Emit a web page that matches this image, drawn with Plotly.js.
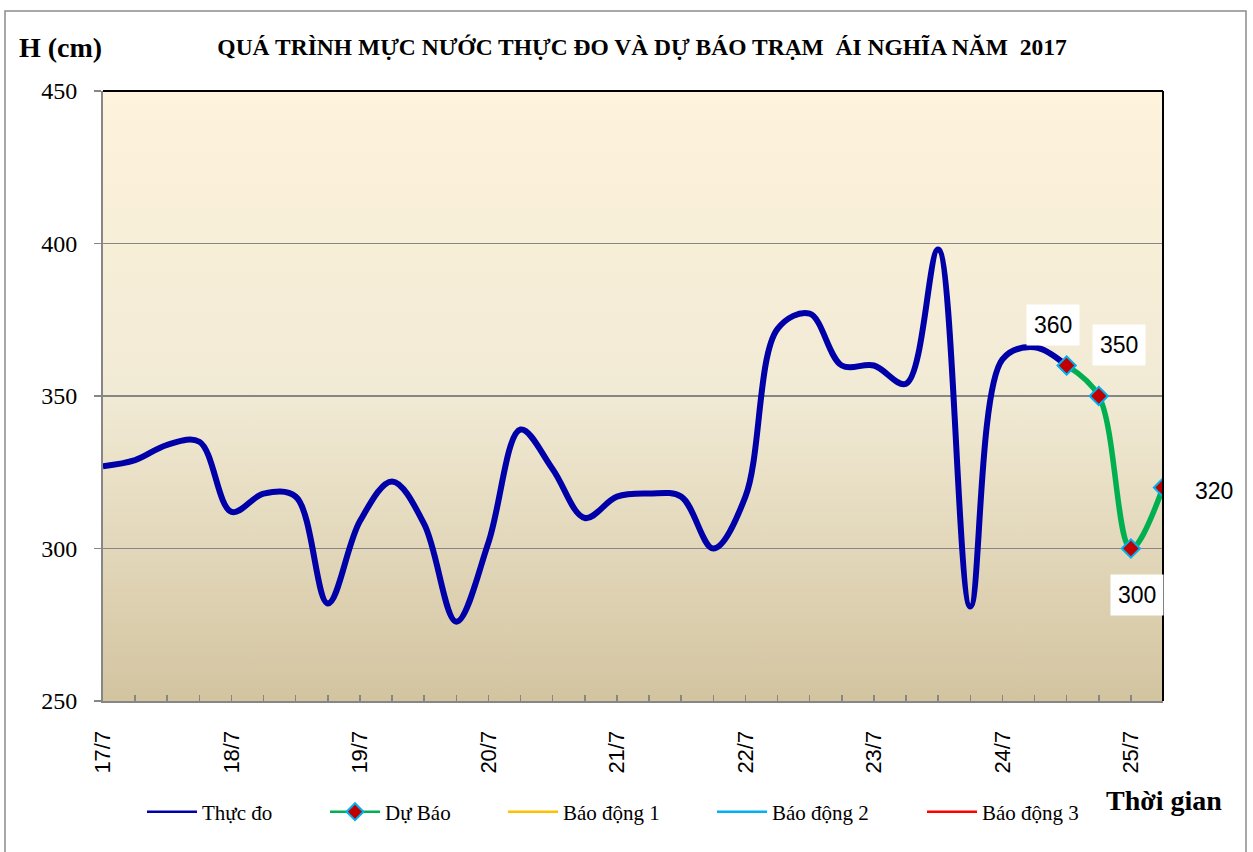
<!DOCTYPE html>
<html>
<head>
<meta charset="utf-8">
<script src="https://cdn.plot.ly/plotly-3.0.1.min.js"></script>
<style>
  html, body { margin: 0; padding: 0; background: #ffffff; }
  #chart { width: 1253px; height: 852px; }
</style>
</head>
<body>
<div id="chart"></div>
<script>
// ---- data ----
const measuredTimes = [
  '2017-07-17 00:00','2017-07-17 06:00','2017-07-17 12:00','2017-07-17 18:00',
  '2017-07-18 00:00','2017-07-18 06:00','2017-07-18 12:00','2017-07-18 18:00',
  '2017-07-19 00:00','2017-07-19 06:00','2017-07-19 12:00','2017-07-19 18:00',
  '2017-07-20 00:00','2017-07-20 06:00','2017-07-20 12:00','2017-07-20 18:00',
  '2017-07-21 00:00','2017-07-21 06:00','2017-07-21 12:00','2017-07-21 18:00',
  '2017-07-22 00:00','2017-07-22 06:00','2017-07-22 12:00','2017-07-22 18:00',
  '2017-07-23 00:00','2017-07-23 06:00','2017-07-23 12:00','2017-07-23 18:00',
  '2017-07-24 00:00','2017-07-24 06:00','2017-07-24 12:00'
];
const measuredValues = [
  327, 329, 334, 335,
  312, 318, 317, 282,
  309, 322, 308, 276,
  302, 339, 326, 310,
  317, 318, 317, 300,
  317, 372, 377, 360,
  360, 354, 398, 281,
  362, 366, 360
];
const forecastTimes = ['2017-07-24 12:00','2017-07-24 18:00','2017-07-25 00:00','2017-07-25 06:00'];
const forecastValues = [360, 350, 300, 320];
// alert levels lie outside the visible range (no visible values); only legend entries show
const alertTimes = ['2017-07-17 00:00', '2017-07-25 06:00'];
const alert1Values = [null, null];
const alert2Values = [null, null];
const alert3Values = [null, null];
const dayTicks = ['2017-07-17','2017-07-18','2017-07-19','2017-07-20','2017-07-21',
                  '2017-07-22','2017-07-23','2017-07-24','2017-07-25'];
const xRange = ['2017-07-17 00:00', '2017-07-25 06:00'];
const yRange = [250, 450];

// label offsets for forecast values (pixels)
const labelShift = [[-14, 41], [20, 51], [6, -46], [51, -3]];

const serif = 'Liberation Serif';
const sans = 'Liberation Sans';

const traces = [
  // thin copies carry the legend entries (legend keys are thin in the reference)
  { x: measuredTimes, y: measuredValues, name: 'Thực đo', type: 'scatter', mode: 'lines',
    line: { color: '#0000A8', width: 2.5, shape: 'spline', smoothing: 1 }, legend: 'legend' },
  { x: forecastTimes, y: forecastValues, name: 'Dự Báo', type: 'scatter', mode: 'lines+markers',
    line: { color: '#00B050', width: 2.5, shape: 'spline', smoothing: 1 },
    marker: { symbol: 'diamond', size: 13, color: '#C00000', line: { color: '#00B0F0', width: 2 } },
    legend: 'legend2' },
  { x: alertTimes, y: alert1Values, name: 'Báo động 1', type: 'scatter', mode: 'lines',
    line: { color: '#FFC000', width: 2.5 }, legend: 'legend3' },
  { x: alertTimes, y: alert2Values, name: 'Báo động 2', type: 'scatter', mode: 'lines',
    line: { color: '#00B0F0', width: 2.5 }, legend: 'legend4' },
  { x: alertTimes, y: alert3Values, name: 'Báo động 3', type: 'scatter', mode: 'lines',
    line: { color: '#FF0000', width: 2.5 }, legend: 'legend5' },
  // thick visible series
  { x: measuredTimes, y: measuredValues, name: 'Thực đo', type: 'scatter', mode: 'lines', showlegend: false,
    line: { color: '#0000A8', width: 6, shape: 'spline', smoothing: 1 } },
  { x: forecastTimes, y: forecastValues, name: 'Dự Báo', type: 'scatter', mode: 'lines+markers', showlegend: false,
    line: { color: '#00B050', width: 5.5, shape: 'spline', smoothing: 1 },
    marker: { symbol: 'diamond', size: 14, color: '#C00000', line: { color: '#00B0F0', width: 2 } } }
];

const gradSvg = "<svg xmlns='http://www.w3.org/2000/svg' width='10' height='100' preserveAspectRatio='none'>" +
  "<defs><linearGradient id='g' x1='0' y1='0' x2='0' y2='1'>" +
  "<stop offset='0' stop-color='#FEF3DC'/><stop offset='0.5' stop-color='#F1EAD4'/>" +
  "<stop offset='1' stop-color='#D3C4A0'/></linearGradient></defs>" +
  "<rect x='0' y='0' width='10' height='100' fill='url(#g)'/></svg>";

const legendFont = { family: serif, size: 21, color: '#000' };
function legendAt(xp) {
  return { x: xp, y: -0.182, xanchor: 'left', yanchor: 'middle', orientation: 'h',
           bgcolor: 'rgba(0,0,0,0)', font: legendFont, itemwidth: 50 };
}
const L = 103, R = 1163, T = 91, B = 701, W = R - L, H = B - T;
const px = v => (v - L) / W;
const py = v => (B - v) / H;

const annotations = [
  { text: 'H (cm)', xref: 'paper', yref: 'paper', x: px(17), y: py(47), xanchor: 'left', yanchor: 'middle',
    showarrow: false, font: { family: serif, size: 28, color: '#000', weight: 'bold' } },
  { text: 'Thời gian', xref: 'paper', yref: 'paper', x: px(1104), y: py(800), xanchor: 'left', yanchor: 'middle',
    showarrow: false, font: { family: serif, size: 28, color: '#000', weight: 'bold' } }
];
forecastValues.forEach((v, i) => {
  annotations.push({
    text: String(v), x: forecastTimes[i], y: v, xref: 'x', yref: 'y', showarrow: false,
    xshift: labelShift[i][0], yshift: labelShift[i][1], bgcolor: '#ffffff', borderpad: 7,
    font: { family: sans, size: 23, color: '#000' }
  });
});

const layout = {
  width: 1253, height: 852,
  margin: { l: L, r: 1253 - R, t: T, b: 852 - B, pad: 0 },
  paper_bgcolor: '#ffffff', plot_bgcolor: 'rgba(0,0,0,0)',
  title: { text: 'QUÁ TRÌNH MỰC NƯỚC THỰC ĐO VÀ DỰ BÁO TRẠM  ÁI NGHĨA NĂM  2017',
           xref: 'container', yref: 'container', x: 642 / 1253, y: 1 - 47 / 852,
           xanchor: 'center', yanchor: 'middle',
           font: { family: serif, size: 23.5, color: '#000', weight: 'bold' } },
  xaxis: {
    type: 'date', range: xRange, tickvals: dayTicks, tickformat: '%-d/%-m', tickangle: -90,
    ticks: 'inside', ticklen: 6, tickwidth: 1.5, tickcolor: '#868686',
    minor: { dtick: 21600000, ticks: 'inside', ticklen: 6, tickwidth: 1.5, tickcolor: '#868686', showgrid: false },
    showgrid: false, zeroline: false, showline: true, linecolor: '#868686', linewidth: 2,
    tickfont: { family: sans, size: 22, color: '#000' }, ticklabelstandoff: 19, fixedrange: true
  },
  yaxis: {
    range: yRange, dtick: 50, tick0: 250, ticks: 'outside', ticklen: 7, tickwidth: 1.5, tickcolor: '#868686',
    showgrid: true, gridcolor: '#868686', gridwidth: 1.5, zeroline: false,
    showline: true, linecolor: '#868686', linewidth: 2,
    tickfont: { family: serif, size: 24, color: '#000' }, ticklabelstandoff: 12, fixedrange: true
  },
  images: [{ source: 'data:image/svg+xml;charset=utf-8,' + encodeURIComponent(gradSvg),
             xref: 'paper', yref: 'paper', x: 0, y: 1, sizex: 1, sizey: 1,
             xanchor: 'left', yanchor: 'top', sizing: 'stretch', layer: 'below' }],
  shapes: [
    { type: 'line', xref: 'paper', yref: 'paper', x0: 0, x1: 1, y0: 1, y1: 1, line: { color: '#000', width: 2 } },
    { type: 'line', xref: 'paper', yref: 'paper', x0: 1, x1: 1, y0: 0, y1: 1, line: { color: '#000', width: 2 } },
    { type: 'rect', xref: 'paper', yref: 'paper', x0: px(5), x1: px(1246), y0: py(11), y1: py(870),
      line: { color: '#8c8c8c', width: 1.5 }, fillcolor: 'rgba(0,0,0,0)', layer: 'below' }
  ],
  annotations: annotations,
  showlegend: true,
  legend: legendAt(px(142)),
  legend2: legendAt(px(325)),
  legend3: legendAt(px(503)),
  legend4: legendAt(px(712)),
  legend5: legendAt(px(922))
};

Plotly.newPlot('chart', traces, layout, { displayModeBar: false, staticPlot: true });
</script>
</body>
</html>
